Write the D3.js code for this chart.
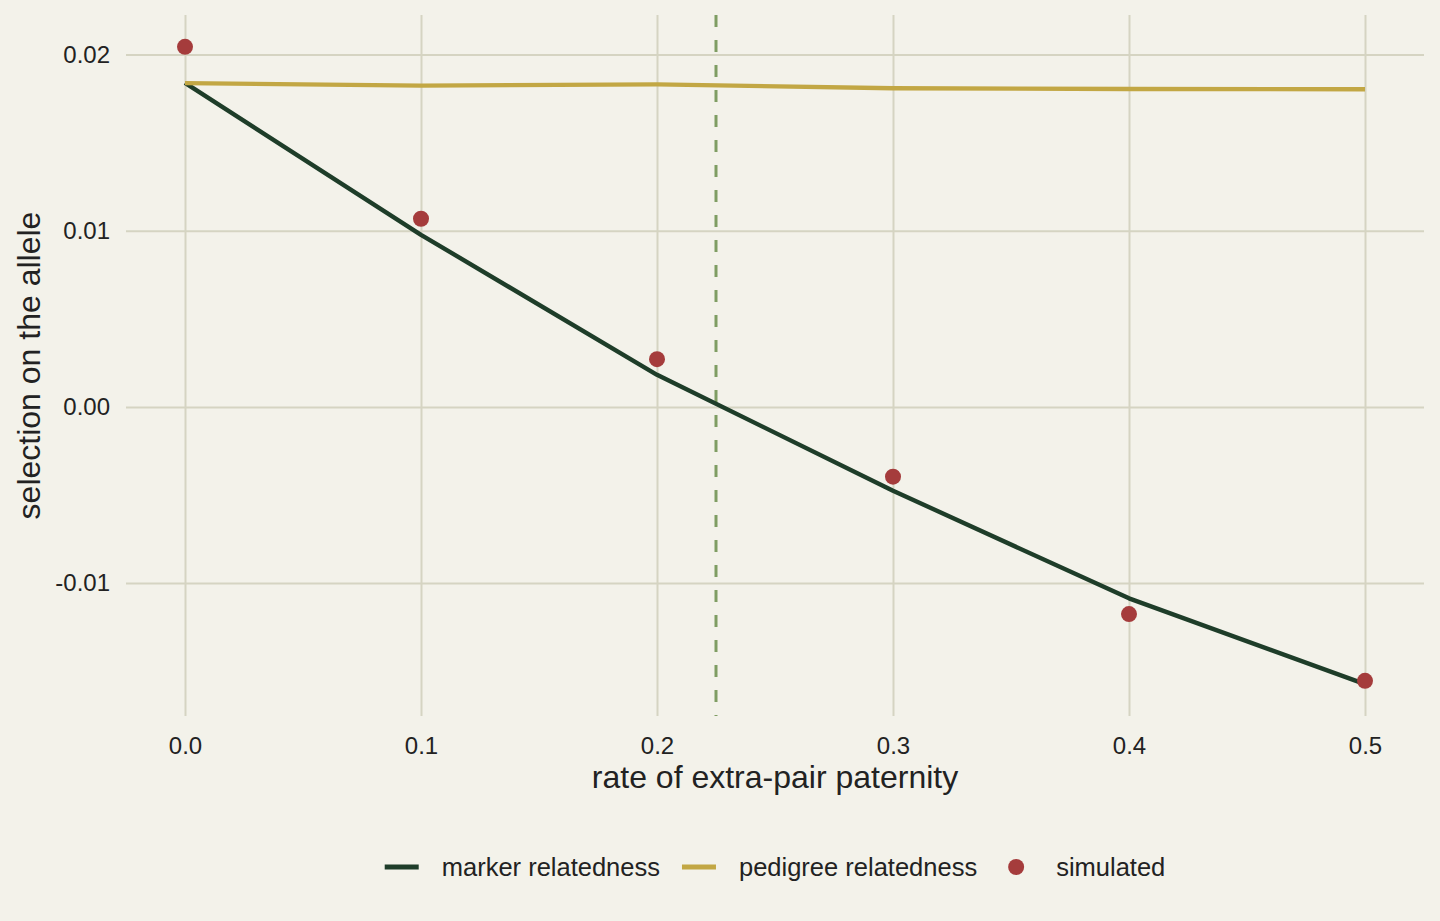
<!DOCTYPE html>
<html>
<head>
<meta charset="utf-8">
<script src="https://cdn.jsdelivr.net/npm/d3@7"></script>
<style>
  body { margin: 0; background: #f3f2ea; }
  svg { display: block; font-family: "Liberation Sans", Arial, sans-serif; }
</style>
</head>
<body>
<svg></svg>
<script>
const width = 1440;
const height = 921;

// data
const rates = [0.0, 0.1, 0.2, 0.3, 0.4, 0.5];
const markerRelatedness = [0.01839, 0.00977, 0.00182, -0.00476, -0.01087, -0.01574];
const pedigreeRelatedness = [0.01838, 0.01824, 0.01831, 0.01809, 0.01805, 0.01803];
const simulated = [0.02044, 0.01068, 0.00271, -0.00396, -0.01176, -0.01555];
const thresholdRate = 0.225;

const xTicks = [0.0, 0.1, 0.2, 0.3, 0.4, 0.5];
const xTickLabels = ["0.0", "0.1", "0.2", "0.3", "0.4", "0.5"];
const yTicks = [-0.01, 0.0, 0.01, 0.02];
const yTickLabels = ["-0.01", "0.00", "0.01", "0.02"];

const seriesNames = ["marker relatedness", "pedigree relatedness", "simulated"];
const colors = {
  marker: "#1e3d29",
  pedigree: "#c2a744",
  simulated: "#a53c3c",
  vline: "#7f9d63",
  grid: "#d5d4c2",
  text: "#222222",
};

const panel = { left: 126, right: 1424, top: 15, bottom: 716 };

const svg = d3.select("svg").attr("width", width).attr("height", height);

svg.append("rect").attr("width", width).attr("height", height).attr("fill", "#f3f2ea");

// ggplot-like 5% expansion
const expand = (lo, hi) => {
  const pad = (hi - lo) * 0.05;
  return [lo - pad, hi + pad];
};

const allY = markerRelatedness.concat(pedigreeRelatedness, simulated);

const xScale = d3
  .scaleLinear()
  .domain(expand(d3.min(rates), d3.max(rates)))
  .range([panel.left, panel.right]);

const yScale = d3
  .scaleLinear()
  .domain(expand(d3.min(allY), d3.max(allY)))
  .range([panel.bottom, panel.top]);

// axes + grid
const xAxis = d3
  .axisBottom(xScale)
  .tickValues(xTicks)
  .tickFormat((d, i) => xTickLabels[i])
  .tickSizeInner(-(panel.bottom - panel.top))
  .tickSizeOuter(0)
  .tickPadding(21);

const yAxis = d3
  .axisLeft(yScale)
  .tickValues(yTicks)
  .tickFormat((d, i) => yTickLabels[i])
  .tickSizeInner(-(panel.right - panel.left))
  .tickSizeOuter(0)
  .tickPadding(16);

const styleAxis = (g) => {
  g.select(".domain").remove();
  g.selectAll(".tick line").attr("stroke", colors.grid).attr("stroke-width", 2);
  g.selectAll(".tick text")
    .attr("fill", colors.text)
    .attr("font-size", 24)
    .attr("font-family", "Liberation Sans, Arial, sans-serif");
};

svg
  .append("g")
  .attr("transform", "translate(0," + panel.bottom + ")")
  .call(xAxis)
  .call(styleAxis);

svg
  .append("g")
  .attr("transform", "translate(" + panel.left + ",0)")
  .call(yAxis)
  .call(styleAxis);

// dashed vertical line
svg
  .append("line")
  .attr("x1", xScale(thresholdRate))
  .attr("x2", xScale(thresholdRate))
  .attr("y1", panel.top)
  .attr("y2", panel.bottom)
  .attr("stroke", colors.vline)
  .attr("stroke-width", 3)
  .attr("stroke-dasharray", "12 13");

// lines
const line = d3
  .line()
  .x((d, i) => xScale(rates[i]))
  .y((d) => yScale(d));

svg
  .append("path")
  .datum(markerRelatedness)
  .attr("d", line)
  .attr("fill", "none")
  .attr("stroke", colors.marker)
  .attr("stroke-width", 4.4)
  .attr("stroke-linejoin", "round");

svg
  .append("path")
  .datum(pedigreeRelatedness)
  .attr("d", line)
  .attr("fill", "none")
  .attr("stroke", colors.pedigree)
  .attr("stroke-width", 4.4)
  .attr("stroke-linejoin", "round");

// points
svg
  .append("g")
  .selectAll("circle")
  .data(simulated)
  .join("circle")
  .attr("cx", (d, i) => xScale(rates[i]))
  .attr("cy", (d) => yScale(d))
  .attr("r", 8)
  .attr("fill", colors.simulated);

// axis titles
svg
  .append("text")
  .attr("x", (panel.left + panel.right) / 2)
  .attr("y", 788)
  .attr("text-anchor", "middle")
  .attr("font-size", 32)
  .attr("fill", colors.text)
  .text("rate of extra-pair paternity");

svg
  .append("text")
  .attr("transform", "translate(40," + (panel.top + panel.bottom) / 2 + ") rotate(-90)")
  .attr("text-anchor", "middle")
  .attr("font-size", 32)
  .attr("fill", colors.text)
  .text("selection on the allele");

// legend
const legendY = 867;
const keyWidth = 34;
const keyGap = 23;
const itemGap = 22;
const legend = svg.append("g");
const keyColors = [colors.marker, colors.pedigree, colors.simulated];

const items = seriesNames.map((name, i) => {
  const g = legend.append("g");
  if (i < 2) {
    g.append("line")
      .attr("x1", 0)
      .attr("x2", keyWidth)
      .attr("y1", legendY)
      .attr("y2", legendY)
      .attr("stroke", keyColors[i])
      .attr("stroke-width", 5);
  } else {
    g.append("circle")
      .attr("cx", keyWidth / 2)
      .attr("cy", legendY)
      .attr("r", 8)
      .attr("fill", keyColors[i]);
  }
  const t = g
    .append("text")
    .attr("x", keyWidth + keyGap)
    .attr("y", legendY + 9)
    .attr("font-size", 25.5)
    .attr("fill", colors.text)
    .text(name);
  return { g, w: keyWidth + keyGap + t.node().getComputedTextLength() };
});

const total = d3.sum(items, (d) => d.w) + itemGap * (items.length - 1);
let cursor = (panel.left + panel.right) / 2 - total / 2;
items.forEach((it) => {
  it.g.attr("transform", "translate(" + cursor + ",0)");
  cursor += it.w + itemGap;
});
</script>
</body>
</html>
